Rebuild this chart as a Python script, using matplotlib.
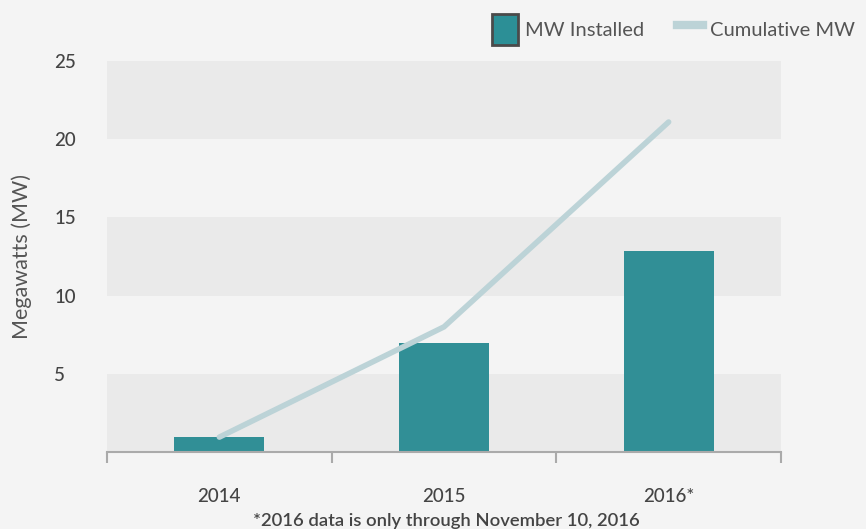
import matplotlib
matplotlib.use("Agg")
import matplotlib.pyplot as plt
from matplotlib.patches import Patch
from matplotlib.lines import Line2D

# values
years = ["2014", "2015", "2016*"]
mw_installed = [0.95, 7.0, 12.85]
cumulative_mw = [0.95, 8.0, 21.1]
y_ticks = [5, 10, 15, 20, 25]
shaded_bands = [(0, 5), (10, 15), (20, 25)]

BG = "#f4f4f4"
BAND = "#eaeaea"
TEAL = "#318f96"
LINE = "#bcd3d7"
INK = "#444444"
AXIS = "#aaaaaa"

plt.rcParams["font.family"] = ["Lato", "DejaVu Sans"]

fig = plt.figure(figsize=(8.66, 5.29), dpi=100, facecolor=BG)
ax = fig.add_axes([0.1236, 0.1456, 0.7782, 0.7391], facecolor=BG)

for lo, hi in shaded_bands:
    ax.axhspan(lo, hi, color=BAND, zorder=0, linewidth=0)

x = list(range(len(years)))
ax.bar(x, mw_installed, width=0.4, color=TEAL, zorder=2)
ax.plot(x, cumulative_mw, color=LINE, linewidth=4, solid_capstyle="round",
        solid_joinstyle="miter", zorder=3)

ax.set_xlim(-0.5, len(years) - 0.5)
ax.set_ylim(0, 25)

for side in ("top", "right", "left"):
    ax.spines[side].set_visible(False)
ax.spines["bottom"].set_color(AXIS)
ax.spines["bottom"].set_linewidth(1.5)

# category ticks sit between the groups, labels centred under the bars
ax.set_xticks([i - 0.5 for i in range(len(years) + 1)])
ax.set_xticklabels([])
ax.set_xticks(x, minor=True)
ax.set_xticklabels(years, minor=True, fontweight="medium")
ax.tick_params(axis="x", which="major", length=8, width=1.5, color=AXIS, direction="out")
ax.tick_params(axis="x", which="minor", length=0, pad=26, labelsize=13.5, labelcolor=INK)

ax.set_yticks(y_ticks)
ax.set_yticklabels([str(t) for t in y_ticks], ha="left", fontweight="medium")
ax.tick_params(axis="y", length=0, pad=38, labelsize=13.5, labelcolor=INK)
ax.set_ylabel("Megawatts (MW)", color="#555555", fontsize=15.5)
ax.yaxis.set_label_coords(-0.111, 0.5)

fig.text(0.515, 0.0, "*2016 data is only through November 10, 2016",
         ha="center", va="bottom", color=INK, fontsize=13.3, fontweight="semibold")

handles = [
    Patch(facecolor="#2c8f96", edgecolor="#4a4a4a", linewidth=2, label="MW Installed"),
    Line2D([0], [0], color=LINE, linewidth=6, label="Cumulative MW"),
]
fig.legend(handles=handles, loc="upper right", bbox_to_anchor=(1.008, 1.008), ncol=2,
           frameon=False, fontsize=14.5, labelcolor="#555555", handlelength=1.3,
           handleheight=2.0, handletextpad=0.35, columnspacing=1.6)

fig.savefig("out.png", dpi=100, facecolor=BG)
